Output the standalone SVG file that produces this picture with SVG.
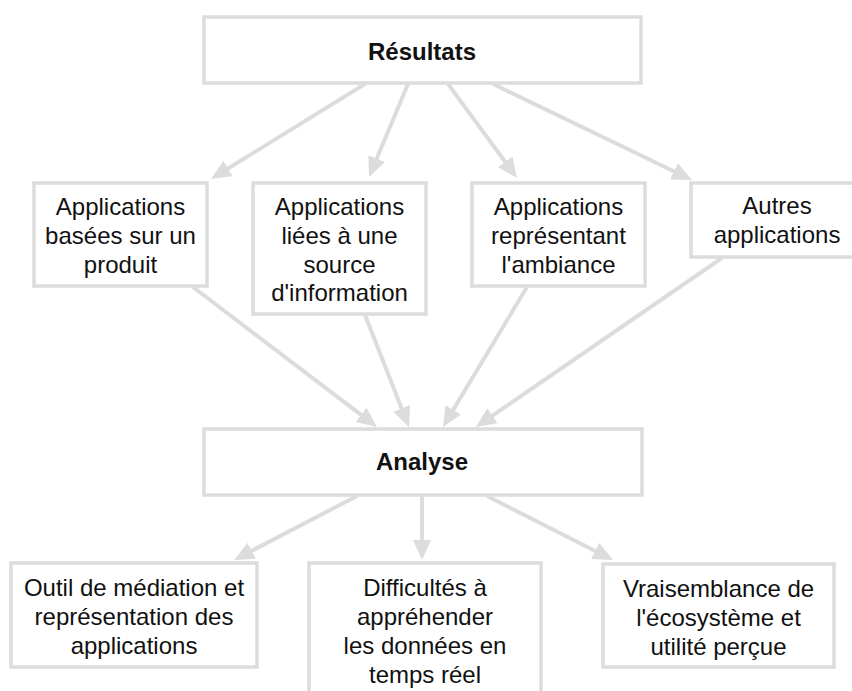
<svg xmlns="http://www.w3.org/2000/svg" width="852" height="691" viewBox="0 0 852 691">
<style>
.box{fill:#fff;stroke:#dcdcdc;stroke-width:3.5}
.t{font-family:"Liberation Sans",Arial,Helvetica,sans-serif;font-size:24px;fill:#111;text-anchor:middle}
.b{font-weight:bold}
.c{stroke:#dcdcdc;stroke-width:4;fill:none;marker-end:url(#ah)}
</style>
<defs>
<marker id="ah" markerUnits="userSpaceOnUse" viewBox="0 0 20 18" markerWidth="20" markerHeight="18" refX="10" refY="9" orient="auto">
<path d="M0,0 L20,9 L0,18 z" fill="#dcdcdc"/>
</marker>
</defs>
<rect width="852" height="691" fill="#fff"/>
<g id="connectors">
<line class="c" x1="365" y1="84" x2="219.5" y2="173.8"/>
<line class="c" x1="408" y1="84" x2="372.9" y2="167.8"/>
<line class="c" x1="448" y1="84" x2="511.1" y2="169.9"/>
<line class="c" x1="493" y1="84" x2="683" y2="175.7"/>
<line class="c" x1="193" y1="287" x2="369" y2="420.9"/>
<line class="c" x1="365" y1="315" x2="405.3" y2="417.7"/>
<line class="c" x1="527" y1="287" x2="448.1" y2="418.4"/>
<line class="c" x1="722" y1="258" x2="484.2" y2="421.3"/>
<line class="c" x1="357" y1="496" x2="242.9" y2="555.4"/>
<line class="c" x1="422" y1="496" x2="422" y2="550"/>
<line class="c" x1="487" y1="496" x2="604.1" y2="555.5"/>
</g>
<g id="resultats">
<rect class="box" x="204" y="17" width="437" height="66"/>
<text class="t b" x="422" y="60">Résultats</text>
</g>
<g id="app-produit">
<rect class="box" x="34" y="183" width="173" height="103"/>
<text class="t" x="120.5" y="215">Applications</text>
<text class="t" x="120.5" y="244">basées sur un</text>
<text class="t" x="120.5" y="273">produit</text>
</g>
<g id="app-source">
<rect class="box" x="253" y="183" width="173" height="131"/>
<text class="t" x="339.5" y="215">Applications</text>
<text class="t" x="339.5" y="244">liées à une</text>
<text class="t" x="339.5" y="273">source</text>
<text class="t" x="339.5" y="301">d'information</text>
</g>
<g id="app-ambiance">
<rect class="box" x="472" y="183" width="173" height="103"/>
<text class="t" x="558.5" y="215">Applications</text>
<text class="t" x="558.5" y="244">représentant</text>
<text class="t" x="558.5" y="273">l'ambiance</text>
</g>
<g id="app-autres">
<rect class="box" x="691" y="183" width="173" height="74"/>
<text class="t" x="777" y="214">Autres</text>
<text class="t" x="777" y="243">applications</text>
</g>
<g id="analyse">
<rect class="box" x="204" y="429" width="438" height="66"/>
<text class="t b" x="422" y="470">Analyse</text>
</g>
<g id="outil">
<rect class="box" x="11" y="563" width="246" height="104"/>
<text class="t" x="134" y="596">Outil de médiation et</text>
<text class="t" x="134" y="625">représentation des</text>
<text class="t" x="134" y="654">applications</text>
</g>
<g id="difficultes">
<rect class="box" x="309" y="563" width="232" height="140"/>
<text class="t" x="425" y="596">Difficultés à</text>
<text class="t" x="425" y="625">appréhender</text>
<text class="t" x="425" y="654">les données en</text>
<text class="t" x="425" y="683">temps réel</text>
</g>
<g id="vraisemblance">
<rect class="box" x="603" y="564" width="231" height="103"/>
<text class="t" x="718.5" y="597">Vraisemblance de</text>
<text class="t" x="718.5" y="626">l'écosystème et</text>
<text class="t" x="718.5" y="655">utilité perçue</text>
</g>
</svg>
